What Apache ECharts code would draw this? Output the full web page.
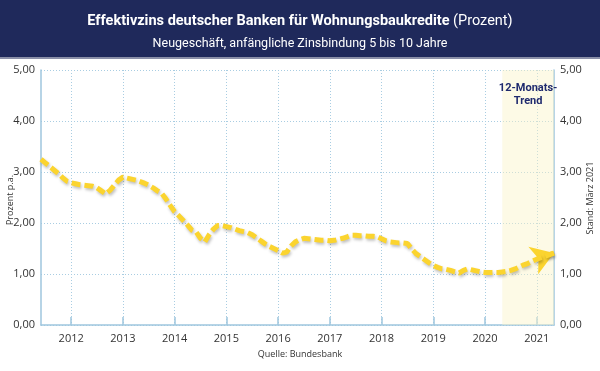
<!DOCTYPE html>
<html><head><meta charset="utf-8">
<script src="https://cdn.jsdelivr.net/npm/echarts@6/dist/echarts.min.js"></script>
<style>html,body{margin:0;padding:0;background:#fff}#c{width:600px;height:371px}</style>
</head><body><div id="c"></div>
<script>
// Monthly categories Jun 2011 .. May 2021
const months = [];
for (let y = 2011; y <= 2021; y++) for (let m = 1; m <= 12; m++) {
  if ((y === 2011 && m < 6) || (y === 2021 && m > 5)) continue;
  months.push(y + '-' + String(m).padStart(2, '0'));
}
const rates = [
 3.25,3.18,3.11,3.04,2.97,2.89,2.82,2.79,2.77,2.75,2.74,2.73,2.72,2.69,2.63,2.57,2.64,2.74,2.84,2.90,
 2.88,2.86,2.84,2.81,2.78,2.74,2.69,2.63,2.58,2.47,2.34,2.22,2.14,2.05,1.96,1.86,1.82,1.70,1.63,1.77,
 1.88,1.95,1.95,1.93,1.91,1.88,1.85,1.83,1.81,1.77,1.71,1.65,1.59,1.54,1.50,1.46,1.41,1.43,1.55,1.63,
 1.67,1.70,1.69,1.68,1.67,1.66,1.66,1.65,1.66,1.68,1.70,1.73,1.76,1.76,1.75,1.75,1.74,1.74,1.73,1.69,
 1.65,1.63,1.62,1.61,1.61,1.60,1.49,1.40,1.34,1.28,1.22,1.17,1.13,1.10,1.09,1.07,1.04,1.02,1.07,1.10,
 1.08,1.06,1.04,1.03,1.03,1.03,1.03,1.04,1.05,1.07,1.10,1.14,1.18,1.21,1.25,1.29,1.32,1.35,1.38,1.41
];
const yTicks = [0, 1, 2, 3, 4, 5];
const trendStart = '2020-05', trendEnd = '2021-05';
const titleMain = 'Effektivzins deutscher Banken für Wohnungsbaukredite';
const titleUnit = ' (Prozent)';
const subtitle = 'Neugeschäft, anfängliche Zinsbindung 5 bis 10 Jahre';
const source = 'Quelle: Bundesbank';

const FONT = '"Open Sans", "Noto Sans", sans-serif';
const TFONT = 'Roboto, "Noto Sans", sans-serif';
const gridBlue = '#a9cde2';
const axisBlue = '#9fc6de';
const isJan = (i, v) => String(v).endsWith('-01');
const fmtY = v => v.toFixed(2).replace('.', ',');
const n = rates.length;

const chart = echarts.init(document.getElementById('c'), null, {renderer: 'canvas'});
chart.setOption({
  animation: false,
  backgroundColor: '#ffffff',
  grid: {left: 41, right: 46, top: 70, bottom: 46},
  graphic: [
    {type: 'rect', left: 0, top: 0, shape: {width: 600, height: 57}, style: {fill: '#1f295b'}, z: 0},
    {type: 'rect', left: 0, top: 57, shape: {width: 600, height: 2}, style: {fill: '#8a8fa8'}, z: 0},
    {type: 'text', left: 'center', top: 14, z: 1, style: {
      text: '{b|' + titleMain + '}{n|' + titleUnit + '}',
      rich: {
        b: {fill: '#ffffff', font: 'bold 14.5px ' + TFONT},
        n: {fill: '#ffffff', font: '14.5px ' + TFONT}
      }}},
    {type: 'text', left: 'center', top: 37, z: 1, style: {text: subtitle, fill: '#ffffff', font: '12.5px ' + TFONT}},
    {type: 'text', left: 'center', top: 350, z: 1, style: {text: source, fill: '#333333', font: '9px ' + FONT}},
    {type: 'text', x: 6, y: 200, rotation: Math.PI / 2, z: 1, style: {text: 'Prozent p.a.', fill: '#333', font: '9px ' + FONT, align: 'center', verticalAlign: 'top'}},
    {type: 'text', x: 586, y: 198, rotation: Math.PI / 2, z: 1, style: {text: 'Stand: März 2021', fill: '#333', font: '9px ' + FONT, align: 'center', verticalAlign: 'top'}}
  ],
  xAxis: {
    type: 'category', data: months, boundaryGap: false,
    axisLine: {lineStyle: {color: axisBlue, width: 1.5}},
    axisTick: {inside: true, length: 8, interval: isJan, lineStyle: {color: axisBlue, width: 1.5}},
    axisLabel: {interval: isJan, formatter: v => v.slice(0, 4), color: '#333', fontSize: 11, fontFamily: FONT, margin: 8},
    splitLine: {show: true, interval: isJan, lineStyle: {color: gridBlue, type: [1, 2], width: 1}}
  },
  yAxis: [
    {type: 'value', min: yTicks[0], max: yTicks[yTicks.length - 1], interval: 1,
     axisLine: {show: true, lineStyle: {color: axisBlue, width: 1.5}},
     axisTick: {show: false},
     axisLabel: {formatter: fmtY, color: '#333', fontSize: 11, fontFamily: FONT, margin: 6},
     splitLine: {lineStyle: {color: gridBlue, type: [1, 2], width: 1}}},
    {type: 'value', min: yTicks[0], max: yTicks[yTicks.length - 1], interval: 1, position: 'right',
     axisLine: {show: true, lineStyle: {color: axisBlue, width: 1.5}},
     axisTick: {show: false},
     axisLabel: {formatter: fmtY, color: '#333', fontSize: 11, fontFamily: FONT, margin: 6},
     splitLine: {show: false}}
  ],
  series: [{
    type: 'line', data: rates, symbol: 'none', z: 5,
    lineStyle: {color: '#fbd42f', width: 5, type: [9, 4], cap: 'butt',
      shadowColor: 'rgba(0,0,0,0.25)', shadowBlur: 3, shadowOffsetX: 1, shadowOffsetY: 2},
    markArea: {silent: true,
      itemStyle: {color: 'rgba(250,243,200,0.45)'},
      label: {show: true, position: 'insideTop', distance: 12, formatter: '12-Monats-\nTrend',
        color: '#1f2a6e', fontWeight: 'bold', fontSize: 11, lineHeight: 13, fontFamily: TFONT},
      data: [[{xAxis: trendStart}, {xAxis: trendEnd}]]},
    markLine: {silent: true, symbol: ['none', 'arrow'], symbolSize: [22, 22],
      label: {show: false},
      lineStyle: {color: '#fbd42f', width: 5, type: 'solid',
        shadowColor: 'rgba(0,0,0,0.2)', shadowBlur: 3, shadowOffsetY: 2},
      data: [[{coord: [months[n - 3], rates[n - 3]]}, {coord: [months[n - 1], rates[n - 1]]}]]}
  }]
});
</script></body></html>
